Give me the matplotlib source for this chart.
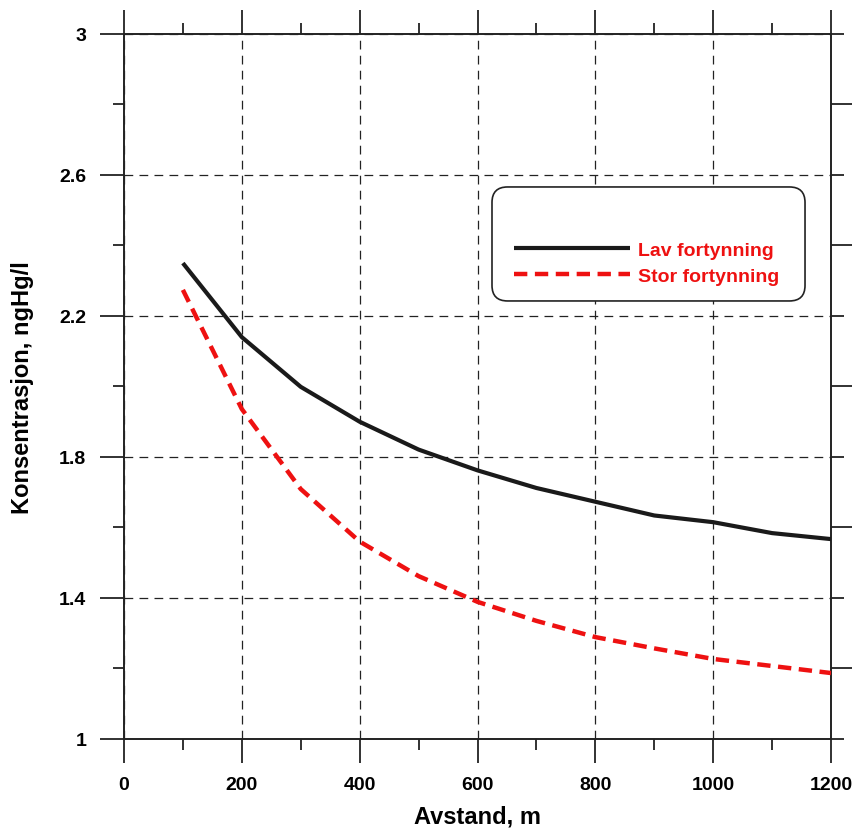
import matplotlib
matplotlib.use("Agg")
import matplotlib.pyplot as plt
from matplotlib.patches import FancyBboxPatch
from matplotlib.ticker import MultipleLocator, FixedLocator

plt.rcParams['font.family'] = ['Liberation Sans', 'DejaVu Sans']
plt.rcParams['font.weight'] = 'bold'

distance = [100, 200, 300, 400, 500, 600, 700, 800, 900, 1000, 1100, 1200]
lav = [2.350, 2.140, 1.999, 1.900, 1.821, 1.762, 1.712, 1.673, 1.634, 1.615, 1.584, 1.567]
stor = [2.274, 1.936, 1.709, 1.560, 1.462, 1.389, 1.335, 1.289, 1.257, 1.227, 1.207, 1.187]

x_ticks = [0, 200, 400, 600, 800, 1000, 1200]
y_ticks = [1, 1.4, 1.8, 2.2, 2.6, 3]
y_ticklabels = ['1', '1.4', '1.8', '2.2', '2.6', '3']
label_lav = 'Lav fortynning'
label_stor = 'Stor fortynning'

fig = plt.figure(figsize=(8.52, 8.29), dpi=100)
ax = fig.add_axes([0.1455, 0.1074, 0.8299, 0.8504])

ax.plot(distance, lav, color='#1a1a1a', lw=3.0, label=label_lav, solid_capstyle='butt', zorder=5)
ax.plot(distance, stor, color='#ee1111', lw=3.2, dashes=(3.0, 1.7), label=label_stor, zorder=5)

ax.set_xlim(0, 1200)
ax.set_ylim(1, 3)
ax.set_xticks(x_ticks)
ax.set_yticks(y_ticks)
ax.set_yticklabels(y_ticklabels)
ax.xaxis.set_minor_locator(MultipleLocator(100))
ax.yaxis.set_minor_locator(MultipleLocator(0.2))

for s in ax.spines.values():
    s.set_linewidth(1.4)
    s.set_color('#222222')

ax.tick_params(which='major', direction='out', length=17, width=1.3, color='#222222',
               labelsize=14, pad=10, top=True, bottom=True, left=True, right=False)
ax.tick_params(which='minor', direction='out', length=8, width=1.3, color='#222222',
               top=True, bottom=True, left=True, right=False)
for lab in ax.get_xticklabels() + ax.get_yticklabels():
    lab.set_fontweight('bold')

# right-side ticks (long ticks between the labelled values)
ax2 = ax.twinx()
ax2.set_ylim(1, 3)
ax2.yaxis.set_major_locator(FixedLocator([1.2, 1.6, 2.0, 2.4, 2.8]))
ax2.yaxis.set_minor_locator(FixedLocator([1.0, 1.4, 1.8, 2.2, 2.6, 3.0]))
ax2.tick_params(which='major', direction='out', length=16, width=1.3, color='#222222', labelright=False)
ax2.tick_params(which='minor', direction='out', length=9, width=1.3, color='#222222')
for s in ax2.spines.values():
    s.set_visible(False)

ax.grid(which='major', color='#222222', lw=0.9, ls=(0, (7, 5)))
ax.set_axisbelow(True)

ax.set_xlabel('Avstand, m', fontsize=17, fontweight='bold', labelpad=8)
ax.set_ylabel('Konsentrasjon, ngHg/l', fontsize=17, fontweight='bold', labelpad=18)

box = FancyBboxPatch((0.5205, 0.6213), 0.4427, 0.1617, boxstyle='round,pad=0.0,rounding_size=0.022',
                     transform=ax.transAxes, facecolor='white', edgecolor='#222222', lw=1.2, zorder=6)
ax.add_patch(box)

leg = ax.legend(loc='upper left', bbox_to_anchor=(0.5516, 0.7063), frameon=False,
                handlelength=5.96, handletextpad=0.41, labelspacing=0.45,
                borderpad=0, borderaxespad=0,
                prop={'weight': 'bold', 'size': 14})
leg.set_zorder(7)
for t in leg.get_texts():
    t.set_color('#ee1111')

fig.savefig('out.png', dpi=100, facecolor='white')
